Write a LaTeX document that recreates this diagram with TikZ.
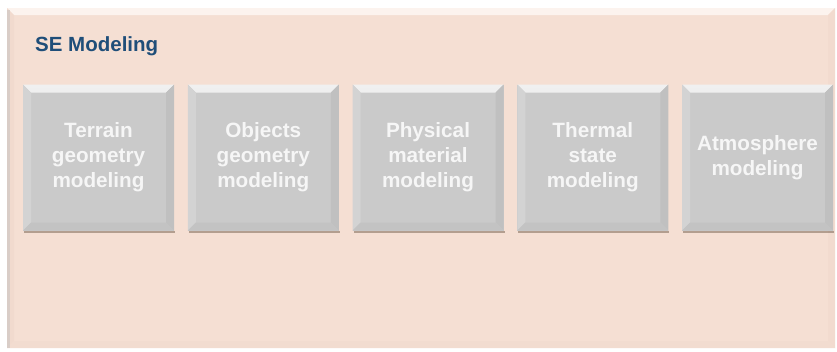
\documentclass[tikz,border=0pt]{standalone}
\usepackage{fontspec}
\setmainfont{Liberation Sans}
\definecolor{panelfill}{HTML}{F5DFD3}
\definecolor{paneltop}{HTML}{FCF3EE}
\definecolor{panelleft}{HTML}{F1DACE}
\definecolor{panelright}{HTML}{F2DBCF}
\definecolor{panelbottom}{HTML}{F2DCD0}
\definecolor{paneledge}{HTML}{D9CDC7}
\definecolor{boxface}{HTML}{CACACA}
\definecolor{boxtop}{HTML}{F0F0F0}
\definecolor{boxleft}{HTML}{D3D3D3}
\definecolor{boxright}{HTML}{C0C0C0}
\definecolor{boxbottom}{HTML}{C3C3C3}
\definecolor{boxtext}{HTML}{F6F6F6}
\definecolor{titleblue}{HTML}{1F4E79}
\tikzset{
  bevelbox/.style={
    rectangle, minimum width=151pt, minimum height=146pt, inner sep=0pt,
    fill=boxface, text=boxtext, align=center, text width=148pt,
    font=\bfseries\fontsize{20.7}{25}\selectfont,
    path picture={
      \def\b{8pt}
      \shade[top color=boxtop, bottom color=boxface!80!white] (path picture bounding box.north west) -- (path picture bounding box.north east)
        -- ([xshift=-\b,yshift=-\b]path picture bounding box.north east) -- ([xshift=\b,yshift=-\b]path picture bounding box.north west) -- cycle;
      \fill[boxleft] (path picture bounding box.north west) -- ([xshift=\b,yshift=-\b]path picture bounding box.north west)
        -- ([xshift=\b,yshift=\b]path picture bounding box.south west) -- (path picture bounding box.south west) -- cycle;
      \fill[boxright] (path picture bounding box.north east) -- ([xshift=-\b,yshift=-\b]path picture bounding box.north east)
        -- ([xshift=-\b,yshift=\b]path picture bounding box.south east) -- (path picture bounding box.south east) -- cycle;
      \fill[boxbottom] (path picture bounding box.south west) -- ([xshift=\b,yshift=\b]path picture bounding box.south west)
        -- ([xshift=-\b,yshift=\b]path picture bounding box.south east) -- (path picture bounding box.south east) -- cycle;
    }
  },
  boxshadow/.style={fill=black!70!brown, opacity=0.35},
  titletext/.style={text=titleblue, font=\bfseries\fontsize{20.5}{24}\selectfont, anchor=base west, inner sep=0pt}
}
\begin{document}
\begin{tikzpicture}[x=1pt,y=-1pt]
\useasboundingbox (0,0) rectangle (837,351);
\fill[white] (0,0) rectangle (837,351);
% panel
\fill[panelfill] (7,8) rectangle (835,348);
\fill[paneltop] (7,8) -- (835,8) -- (828,15) -- (14,15) -- cycle;
\fill[panelleft] (7,8) -- (14,15) -- (14,341) -- (7,348) -- cycle;
\fill[panelright] (835,8) -- (828,15) -- (828,341) -- (835,348) -- cycle;
\fill[panelbottom] (7,348) -- (14,341) -- (828,341) -- (835,348) -- cycle;
\fill[paneledge] (7,10) rectangle (9.5,348);
\node[titletext] (title) at (35,51) {SE Modeling};
% shadows
\foreach \i in {0,...,4} {
  \fill[boxshadow] (23+164.75*\i+1,230.5) rectangle (23+164.75*\i+152,232.5);
}
\node[bevelbox] (b1) at (98.5,157.5) {Terrain\\geometry\\modeling};
\node[bevelbox] (b2) at (263.25,157.5) {Objects\\geometry\\modeling};
\node[bevelbox] (b3) at (428,157.5) {Physical\\material\\modeling};
\node[bevelbox] (b4) at (592.75,157.5) {Thermal\\state\\modeling};
\node[bevelbox] (b5) at (757.5,157.5) {Atmosphere\\modeling};
\end{tikzpicture}
\end{document}
